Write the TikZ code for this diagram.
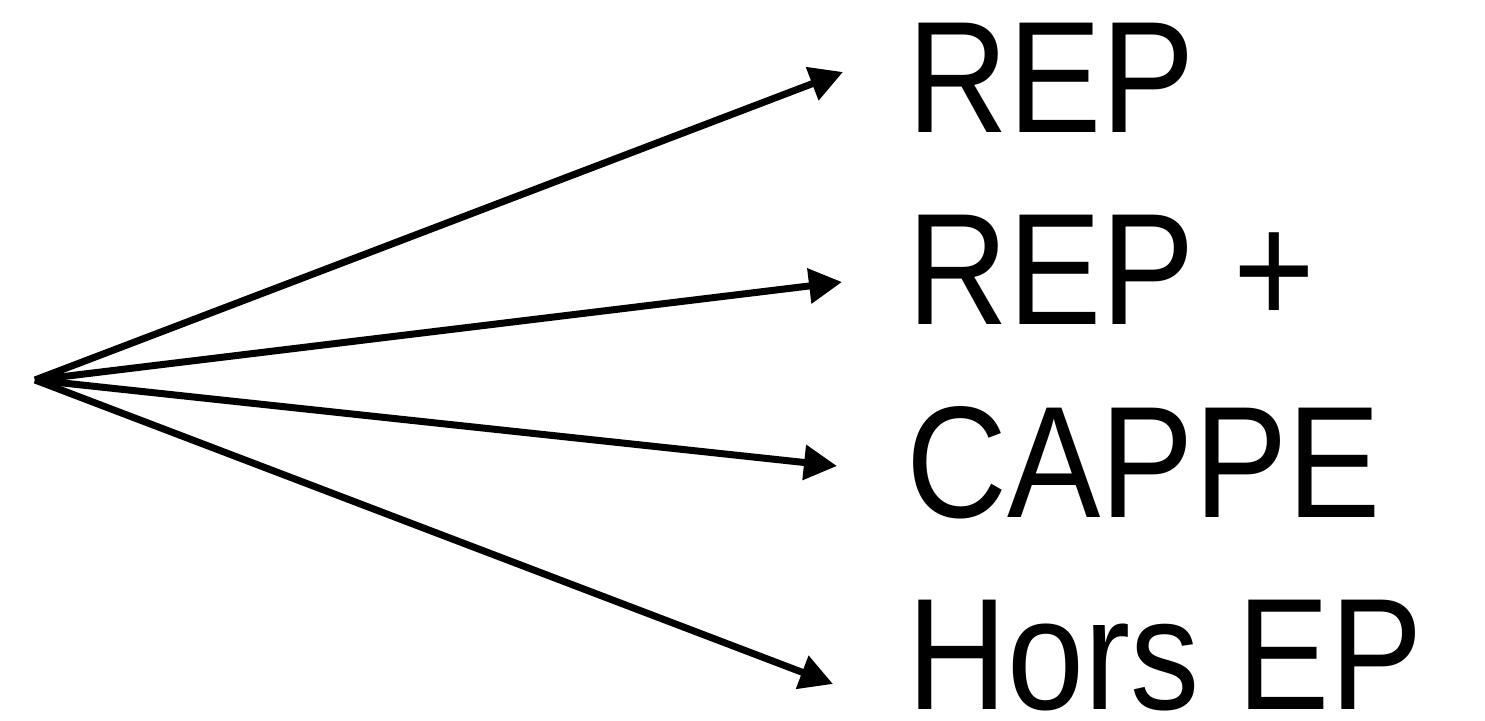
\documentclass[tikz,border=0pt]{standalone}
\usepackage{fontspec}
\setmainfont{Liberation Sans}
\usetikzlibrary{arrows.meta}
\tikzset{
  arr/.style={line width=3.5pt, -{Triangle[length=16.5pt,width=17pt]}},
  lbl/.style={anchor=base west, inner sep=0pt, text depth=0pt, font=\fontsize{79.5pt}{95pt}\selectfont}
}
\begin{document}
\begin{tikzpicture}[x=0.5pt,y=-0.5pt]
\useasboundingbox (0,0) rectangle (1485,721);
\coordinate (o) at (35,380);
\coordinate (t1) at (843,72);
\coordinate (t2) at (842,282);
\coordinate (t3) at (837,466);
\coordinate (t4) at (833,684);
\node[lbl] (rep) at (907,133) {\scalebox{0.88}[1]{REP}};
\node[lbl] (repp) at (907,325) {\scalebox{0.88}[1]{REP +}};
\node[lbl] (cappe) at (906,518) {\scalebox{0.88}[1]{CAPPE}};
\node[lbl] (hors) at (907,710) {\scalebox{0.87}[1]{Hors EP}};
\draw[arr] (o) -- (t1);
\draw[arr] (o) -- (t2);
\draw[arr] (o) -- (t3);
\draw[arr] (o) -- (t4);
\end{tikzpicture}
\end{document}
